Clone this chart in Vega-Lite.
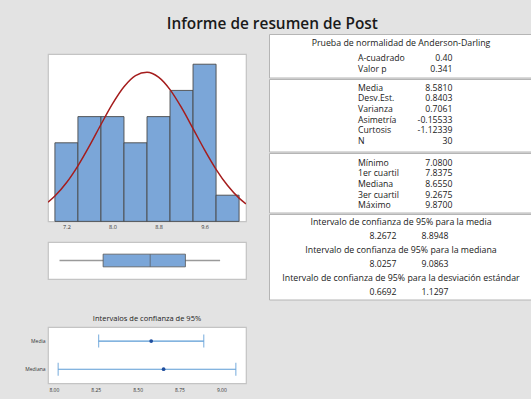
{
  "$schema": "https://vega.github.io/schema/vega-lite/v6.json",
  "background": "#e3e3e3",
  "padding": {"left": 24, "top": 17, "right": 0, "bottom": 6},
  "title": {"text": "Informe de resumen de Post", "fontSize": 15.4, "fontWeight": 600, "font": "Open Sans", "color": "#1a1a1a", "anchor": "middle", "dx": -6.5, "offset": 1},
  "spacing": 21,
  "datasets": {
    "hist": [
      {"lo": 7.0, "hi": 7.4, "count": 3},
      {"lo": 7.4, "hi": 7.8, "count": 4},
      {"lo": 7.8, "hi": 8.2, "count": 4},
      {"lo": 8.2, "hi": 8.6, "count": 3},
      {"lo": 8.6, "hi": 9.0, "count": 4},
      {"lo": 9.0, "hi": 9.4, "count": 5},
      {"lo": 9.4, "hi": 9.8, "count": 6},
      {"lo": 9.8, "hi": 10.2, "count": 1}
    ],
    "curve": [
      {"x": 6.88, "y": 0.734}, {"x": 7.0, "y": 0.970}, {"x": 7.2, "y": 1.476}, {"x": 7.4, "y": 2.122},
      {"x": 7.6, "y": 2.882}, {"x": 7.8, "y": 3.699}, {"x": 8.0, "y": 4.486}, {"x": 8.2, "y": 5.140},
      {"x": 8.4, "y": 5.567}, {"x": 8.6, "y": 5.695}, {"x": 8.8, "y": 5.507}, {"x": 9.0, "y": 5.031},
      {"x": 9.2, "y": 4.343}, {"x": 9.4, "y": 3.543}, {"x": 9.6, "y": 2.731}, {"x": 9.8, "y": 1.989},
      {"x": 10.0, "y": 1.369}, {"x": 10.2, "y": 0.890}, {"x": 10.32, "y": 0.669}
    ],
    "box": [{"var": "Post", "min": 7.08, "q1": 7.8375, "median": 8.655, "q3": 9.2675, "max": 9.87}],
    "ci": [
      {"name": "Media", "est": 8.581, "lo": 8.2672, "hi": 8.8948},
      {"name": "Mediana", "est": 8.655, "lo": 8.0257, "hi": 9.0863}
    ],
    "table": [
      {"sec": 1, "line": 0, "kind": "h", "label": "Prueba de normalidad de Anderson-Darling", "value": ""},
      {"sec": 1, "line": 1, "kind": "r", "label": "A-cuadrado", "value": "0.40"},
      {"sec": 1, "line": 2, "kind": "r", "label": "Valor p", "value": "0.341"},
      {"sec": 2, "line": 0, "kind": "r", "label": "Media", "value": "8.5810"},
      {"sec": 2, "line": 1, "kind": "r", "label": "Desv.Est.", "value": "0.8403"},
      {"sec": 2, "line": 2, "kind": "r", "label": "Varianza", "value": "0.7061"},
      {"sec": 2, "line": 3, "kind": "r", "label": "Asimetría", "value": "-0.15533"},
      {"sec": 2, "line": 4, "kind": "r", "label": "Curtosis", "value": "-1.12339"},
      {"sec": 2, "line": 5, "kind": "r", "label": "N", "value": "30"},
      {"sec": 3, "line": 0, "kind": "r", "label": "Mínimo", "value": "7.0800"},
      {"sec": 3, "line": 1, "kind": "r", "label": "1er cuartil", "value": "7.8375"},
      {"sec": 3, "line": 2, "kind": "r", "label": "Mediana", "value": "8.6550"},
      {"sec": 3, "line": 3, "kind": "r", "label": "3er cuartil", "value": "9.2675"},
      {"sec": 3, "line": 4, "kind": "r", "label": "Máximo", "value": "9.8700"},
      {"sec": 4, "line": 0, "kind": "h", "label": "Intervalo de confianza de 95% para la media", "value": ""},
      {"sec": 4, "line": 1, "kind": "v", "label": "8.2672", "value": "8.8948"},
      {"sec": 4, "line": 2, "kind": "h", "label": "Intervalo de confianza de 95% para la mediana", "value": ""},
      {"sec": 4, "line": 3, "kind": "v", "label": "8.0257", "value": "9.0863"},
      {"sec": 4, "line": 4, "kind": "h", "label": "Intervalo de confianza de 95% para la desviación estándar", "value": ""},
      {"sec": 4, "line": 5, "kind": "v", "label": "0.6692", "value": "1.1297"}
    ]
  },
  "hconcat": [
    {
      "spacing": 0,
      "vconcat": [
        {"width": 198, "height": 18.3, "data": {"values": []}, "mark": "point", "view": {"fill": null, "stroke": null}},
        {
          "spacing": 34,
          "vconcat": [
            {
              "spacing": 10,
              "vconcat": [
                {
                  "width": 198,
                  "height": 167.4,
                  "view": {"fill": "white", "stroke": "#c4c4c4", "strokeWidth": 1.2},
                  "layer": [
                    {
                      "data": {"name": "hist"},
                      "mark": {"type": "rect", "fill": "#7ba6d8", "stroke": "#4a4a4a", "strokeWidth": 0.9},
                      "encoding": {
                        "x": {"field": "lo", "type": "quantitative", "scale": {"domain": [6.88, 10.32], "nice": false, "zero": false},
                              "axis": {"values": [7.2, 8.0, 8.8, 9.6], "format": ".1f", "title": null, "labelFontSize": 5.5, "ticks": false, "domain": false, "grid": false, "labelPadding": 3, "labelColor": "#333"}},
                        "x2": {"field": "hi"},
                        "y": {"field": "count", "type": "quantitative", "scale": {"domain": [0, 6.39], "nice": false}, "axis": null},
                        "y2": {"datum": 0}
                      }
                    },
                    {
                      "data": {"name": "curve"},
                      "mark": {"type": "line", "color": "#a51d1d", "strokeWidth": 1.5, "interpolate": "monotone", "clip": true},
                      "encoding": {
                        "x": {"field": "x", "type": "quantitative"},
                        "y": {"field": "y", "type": "quantitative"}
                      }
                    }
                  ]
                },
                {
                  "width": 198,
                  "height": 37,
                  "view": {"fill": "white", "stroke": "#c4c4c4", "strokeWidth": 1.2},
                  "data": {"name": "box"},
                  "encoding": {"y": {"field": "var", "type": "nominal", "axis": null}},
                  "layer": [
                    {
                      "mark": {"type": "rule", "color": "#9a9a9a", "strokeWidth": 1.3},
                      "encoding": {
                        "x": {"field": "min", "type": "quantitative", "scale": {"domain": [6.88, 10.32], "nice": false, "zero": false}, "axis": null},
                        "x2": {"field": "max"}
                      }
                    },
                    {
                      "mark": {"type": "bar", "size": 12.7, "fill": "#7ba6d8", "stroke": "#555", "strokeWidth": 0.8},
                      "encoding": {
                        "x": {"field": "q1", "type": "quantitative"},
                        "x2": {"field": "q3"}
                      }
                    },
                    {
                      "mark": {"type": "tick", "orient": "vertical", "size": 12.7, "thickness": 1, "color": "#555"},
                      "encoding": {"x": {"field": "median", "type": "quantitative"}}
                    }
                  ]
                }
              ]
            },
            {
              "width": 198,
              "height": 56.3,
              "view": {"fill": "white", "stroke": "#c4c4c4", "strokeWidth": 1.2},
              "data": {"name": "ci"},
              "title": {"text": "Intervalos de confianza de 95%", "fontSize": 7.5, "fontWeight": "normal", "color": "#222", "offset": 4.5, "anchor": "middle"},
              "encoding": {
                "y": {"field": "name", "type": "nominal", "sort": ["Media", "Mediana"],
                      "axis": {"title": null, "ticks": false, "domain": false, "labelFontSize": 5, "labelPadding": 3, "labelColor": "#333"}}
              },
              "layer": [
                {
                  "mark": {"type": "rule", "color": "#5b9bd5", "strokeWidth": 1.2},
                  "encoding": {
                    "x": {"field": "lo", "type": "quantitative", "scale": {"domain": [7.965, 9.147], "nice": false, "zero": false},
                          "axis": {"values": [8, 8.25, 8.5, 8.75, 9], "format": ".2f", "title": null, "ticks": false, "domain": false, "grid": false, "labelFontSize": 5, "labelPadding": 4, "labelColor": "#333"}},
                    "x2": {"field": "hi"}
                  }
                },
                {
                  "mark": {"type": "tick", "orient": "vertical", "size": 13, "thickness": 1.2, "color": "#5b9bd5"},
                  "encoding": {"x": {"field": "lo", "type": "quantitative"}}
                },
                {
                  "mark": {"type": "tick", "orient": "vertical", "size": 13, "thickness": 1.2, "color": "#5b9bd5"},
                  "encoding": {"x": {"field": "hi", "type": "quantitative"}}
                },
                {
                  "mark": {"type": "point", "filled": true, "size": 14, "color": "#1f4e9e", "opacity": 1},
                  "encoding": {"x": {"field": "est", "type": "quantitative"}}
                }
              ]
            }
          ]
        }
      ]
    },
    {
      "spacing": 0,
      "vconcat": [
        {
          "width": 264,
          "height": 43.5,
          "view": {"fill": "white", "stroke": "#b5b5b5", "strokeWidth": 1},
          "data": {"name": "table"},
          "transform": [{"filter": "datum.sec == 1"}],
          "encoding": {"y": {"field": "line", "type": "quantitative", "scale": {"domain": [-1.087, 2.696], "reverse": true, "nice": false, "zero": false}, "axis": null}},
          "layer": [
            {"transform": [{"filter": "datum.kind == 'h'"}], "mark": {"type": "text", "fontSize": 8.8, "fontWeight": 500, "color": "#1a1a1a", "dy": -3.5}, "encoding": {"text": {"field": "label"}}},
            {"transform": [{"filter": "datum.kind == 'r'"}], "mark": {"type": "text", "align": "left", "fontSize": 8.7, "fontWeight": 500, "color": "#1a1a1a"},
             "encoding": {"text": {"field": "label"}, "x": {"datum": 0, "type": "quantitative", "scale": {"domain": [-0.9418, 1.8519], "nice": false, "zero": false}, "axis": null}}},
            {"transform": [{"filter": "datum.kind == 'r'"}], "mark": {"type": "text", "align": "right", "fontSize": 8.7, "fontWeight": 500, "color": "#1a1a1a"},
             "encoding": {"text": {"field": "value"}, "x": {"datum": 1, "type": "quantitative"}}}
          ]
        },
        {
          "width": 264,
          "height": 72.5,
          "view": {"fill": "white", "stroke": "#b5b5b5", "strokeWidth": 1},
          "data": {"name": "table"},
          "transform": [{"filter": "datum.sec == 2"}],
          "encoding": {"y": {"field": "line", "type": "quantitative", "scale": {"domain": [-0.83, 6.009], "reverse": true, "nice": false, "zero": false}, "axis": null}},
          "layer": [
            {"mark": {"type": "text", "align": "left", "fontSize": 8.7, "fontWeight": 500, "color": "#1a1a1a"},
             "encoding": {"text": {"field": "label"}, "x": {"datum": 0, "type": "quantitative", "scale": {"domain": [-0.9418, 1.8519], "nice": false, "zero": false}, "axis": null}}},
            {"mark": {"type": "text", "align": "right", "fontSize": 8.7, "fontWeight": 500, "color": "#1a1a1a"},
             "encoding": {"text": {"field": "value"}, "x": {"datum": 1, "type": "quantitative"}}}
          ]
        },
        {
          "width": 264,
          "height": 59.5,
          "view": {"fill": "white", "stroke": "#b5b5b5", "strokeWidth": 1},
          "data": {"name": "table"},
          "transform": [{"filter": "datum.sec == 3"}],
          "encoding": {"y": {"field": "line", "type": "quantitative", "scale": {"domain": [-0.911, 4.676], "reverse": true, "nice": false, "zero": false}, "axis": null}},
          "layer": [
            {"mark": {"type": "text", "align": "left", "fontSize": 8.7, "fontWeight": 500, "color": "#1a1a1a"},
             "encoding": {"text": {"field": "label"}, "x": {"datum": 0, "type": "quantitative", "scale": {"domain": [-0.9418, 1.8519], "nice": false, "zero": false}, "axis": null}}},
            {"mark": {"type": "text", "align": "right", "fontSize": 8.7, "fontWeight": 500, "color": "#1a1a1a"},
             "encoding": {"text": {"field": "value"}, "x": {"datum": 1, "type": "quantitative"}}}
          ]
        },
        {
          "width": 264,
          "height": 85.5,
          "view": {"fill": "white", "stroke": "#b5b5b5", "strokeWidth": 1},
          "data": {"name": "table"},
          "transform": [{"filter": "datum.sec == 4"}],
          "encoding": {"y": {"field": "line", "type": "quantitative", "scale": {"domain": [-0.557, 5.55], "reverse": true, "nice": false, "zero": false}, "axis": null}},
          "layer": [
            {"transform": [{"filter": "datum.kind == 'h'"}], "mark": {"type": "text", "fontSize": 8.8, "fontWeight": 500, "color": "#1a1a1a"}, "encoding": {"text": {"field": "label"}}},
            {"transform": [{"filter": "datum.kind == 'v'"}], "mark": {"type": "text", "align": "center", "fontSize": 8.7, "fontWeight": 500, "color": "#1a1a1a"},
             "encoding": {"text": {"field": "label"}, "x": {"datum": 0, "type": "quantitative", "scale": {"domain": [-2.1923, 2.8846], "nice": false, "zero": false}, "axis": null}}},
            {"transform": [{"filter": "datum.kind == 'v'"}], "mark": {"type": "text", "align": "center", "fontSize": 8.7, "fontWeight": 500, "color": "#1a1a1a"},
             "encoding": {"text": {"field": "value"}, "x": {"datum": 1, "type": "quantitative"}}}
          ]
        }
      ]
    }
  ],
  "config": {
    "font": "Open Sans",
    "view": {"stroke": null},
    "text": {"font": "Open Sans"},
    "axis": {"labelFont": "Open Sans"},
    "title": {"font": "Open Sans"}
  }
}
